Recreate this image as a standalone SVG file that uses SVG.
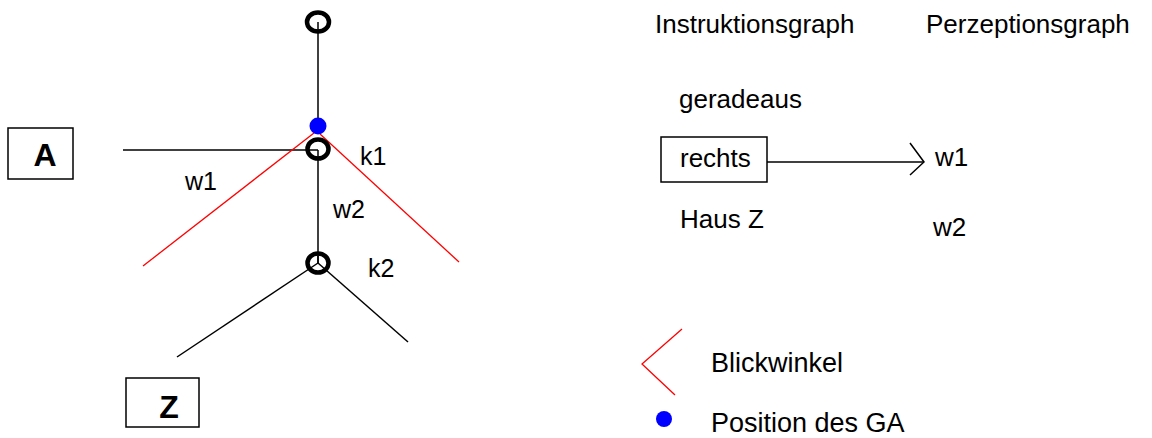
<svg xmlns="http://www.w3.org/2000/svg" width="1152" height="438" viewBox="0 0 1152 438">
<style>
text{font-family:"Liberation Sans",Arial,sans-serif;fill:#000}
.t{font-size:26px}
.lg{font-size:27px}
.l{font-size:25px}
.b{font-size:32px;font-weight:bold}
.ln{stroke:#000;stroke-width:1.5;fill:none}
.red{stroke:#ff0000;stroke-width:1.3;fill:none}
.node{stroke:#000;stroke-width:4.5;fill:none}
.box{stroke:#000;stroke-width:1.5;fill:#fff}
</style>
<rect width="1152" height="438" fill="#fff"/>
<g id="connectors">
<line class="ln" x1="318" y1="22" x2="318" y2="126"/>
<line class="ln" x1="123" y1="150" x2="318" y2="150"/>
<line class="ln" x1="318" y1="150" x2="318" y2="263"/>
<line class="ln" x1="318" y1="263" x2="177" y2="357"/>
<line class="ln" x1="318" y1="263" x2="408" y2="342"/>
<line class="ln" x1="318" y1="263" x2="318" y2="256"/>
<line class="red" x1="143" y1="266" x2="314" y2="133"/>
<line class="red" x1="320" y1="134" x2="459" y2="262"/>
<line class="ln" x1="767" y1="162" x2="924" y2="162"/>
<polyline class="ln" points="910,143 924,162 910,175"/>
</g>
<g id="n-top"><ellipse class="node" cx="318" cy="22" rx="11" ry="9.5"/></g>
<g id="n-k1"><ellipse class="node" cx="318" cy="149" rx="10.5" ry="9.5"/></g>
<g id="n-k2"><ellipse class="node" cx="318" cy="263" rx="10.5" ry="9.5"/></g>
<g id="ga-position"><circle cx="318" cy="126" r="8.5" fill="#0000ff"/></g>
<g id="n-A"><rect class="box" x="8" y="128" width="65" height="51"/><text class="b" x="45" y="166" text-anchor="middle">A</text></g>
<g id="n-Z"><rect class="box" x="126" y="378" width="73" height="49"/><text class="b" x="169" y="418" text-anchor="middle">Z</text></g>
<g id="labels">
<text class="l" x="185" y="190">w1</text>
<text class="l" x="360" y="165">k1</text>
<text class="l" x="333" y="218">w2</text>
<text class="l" x="368" y="277">k2</text>
</g>
<g id="instruktion">
<text class="t" x="655" y="33">Instruktionsgraph</text>
<text class="t" x="679" y="108">geradeaus</text>
<g id="n-rechts"><rect class="box" x="661" y="137" width="106" height="45"/><text class="t" x="680" y="167">rechts</text></g>
<text class="t" x="680" y="228">Haus Z</text>
</g>
<g id="perzeption">
<text class="t" x="926" y="33">Perzeptionsgraph</text>
<text class="t" x="935" y="166">w1</text>
<text class="t" x="933" y="236">w2</text>
</g>
<g id="legend">
<polyline class="red" points="682,329 642,364 675,395"/>
<text class="lg" x="711" y="372">Blickwinkel</text>
<circle cx="664" cy="419" r="8" fill="#0000ff"/>
<text class="lg" x="711" y="432">Position des GA</text>
</g>
</svg>
